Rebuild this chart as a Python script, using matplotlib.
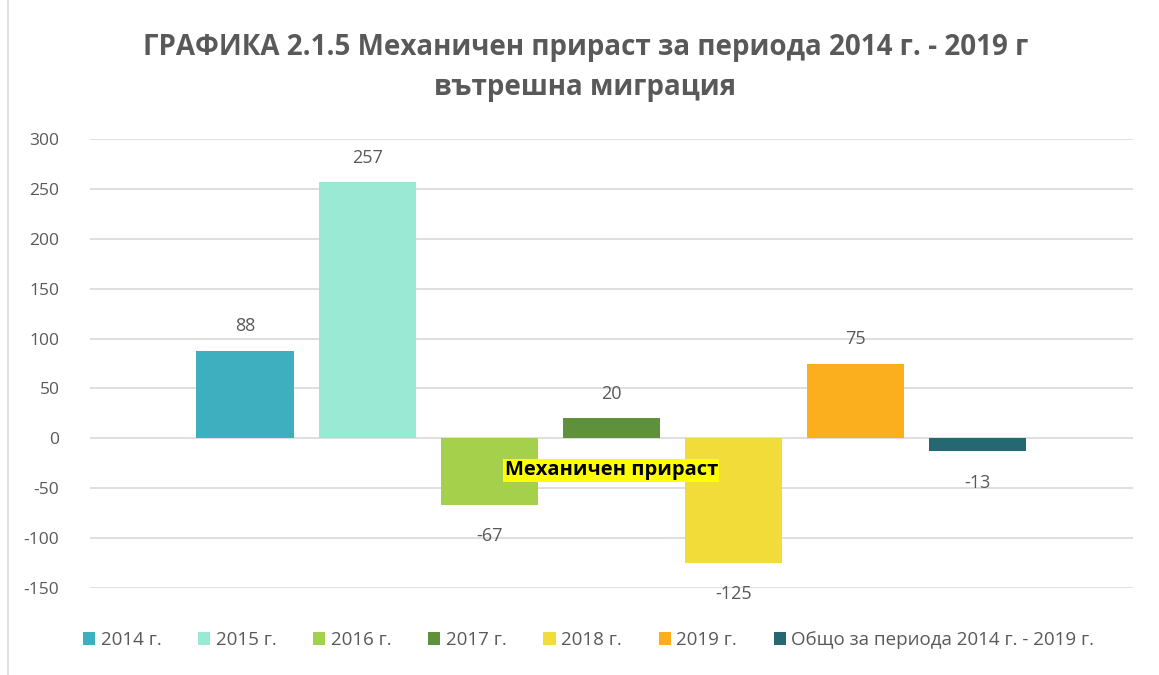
import matplotlib
matplotlib.use("Agg")
import matplotlib.pyplot as plt
from matplotlib.patches import FancyBboxPatch, Patch

plt.rcParams['font.family'] = ['Open Sans', 'DejaVu Sans']

series = ["2014 г.", "2015 г.", "2016 г.", "2017 г.", "2018 г.", "2019 г.",
          "Общо за периода 2014 г. - 2019 г."]
values = [88, 257, -67, 20, -125, 75, -13]
colors = ["#3EAFBE", "#99E9D5", "#A5D04B", "#5F903A", "#F2DC3A", "#FBAF1E", "#256871"]
yticks = [-150, -100, -50, 0, 50, 100, 150, 200, 250, 300]

W, H = 1159, 675
fig = plt.figure(figsize=(W / 100, H / 100), dpi=100)
ax = fig.add_axes([90 / W, 1 - 588 / H, (1133 - 90) / W, (588 - 139) / H])

gray = "#595959"
x = list(range(len(values)))
bars = ax.bar(x, values, width=0.795, color=colors, zorder=3)

for xi, v in zip(x, values):
    if v >= 0:
        ax.annotate(str(v), (xi, v), xytext=(0, 11), textcoords="offset points",
                    ha="center", va="bottom", fontsize=13, color=gray)
    else:
        ax.annotate(str(v), (xi, v), xytext=(0, -16), textcoords="offset points",
                    ha="center", va="top", fontsize=13, color=gray)

ax.set_xlim(-1.27, len(values) - 1 + 1.275)
ax.set_ylim(-150, 300)
ax.set_yticks(yticks)
ax.set_yticklabels([str(t) for t in yticks], fontsize=12.5, color=gray)
ax.set_xticks([])
ax.tick_params(axis="y", length=0, pad=22)
for s in ax.spines.values():
    s.set_visible(False)
ax.grid(axis="y", color="#D9D9D9", linewidth=1.2, zorder=0)
ax.set_axisbelow(True)

ax.text(3, -32, "Механичен прираст", ha="center", va="center", fontsize=14.5,
        fontweight="bold", color="black", zorder=5,
        bbox=dict(boxstyle="square,pad=0.08", fc="#FFFF00", ec="none"))

fig.text(0.505, 1 - 48 / H, "ГРАФИКА 2.1.5 Механичен прираст за периода 2014 г. - 2019 г",
         ha="center", va="center", fontsize=20, fontweight="bold", color=gray)
fig.text(0.505, 1 - 88 / H, "вътрешна миграция",
         ha="center", va="center", fontsize=20, fontweight="bold", color=gray)

handles = [Patch(facecolor=c, edgecolor="none") for c in colors]
fig.legend(handles, series, loc="center", bbox_to_anchor=(0.508, 1 - 640 / H),
           ncol=7, frameon=False, fontsize=13.5, handlelength=0.65, handleheight=0.65,
           handletextpad=0.3, columnspacing=1.95, labelcolor=gray)

border = FancyBboxPatch((8 / W, -0.02), 1.2, 1.05, boxstyle="round,pad=0,rounding_size=0.01",
                        transform=fig.transFigure, fc="none", ec="#D9D9D9", lw=1.2)
fig.patches.append(border)

fig.savefig("out.png", dpi=100)
